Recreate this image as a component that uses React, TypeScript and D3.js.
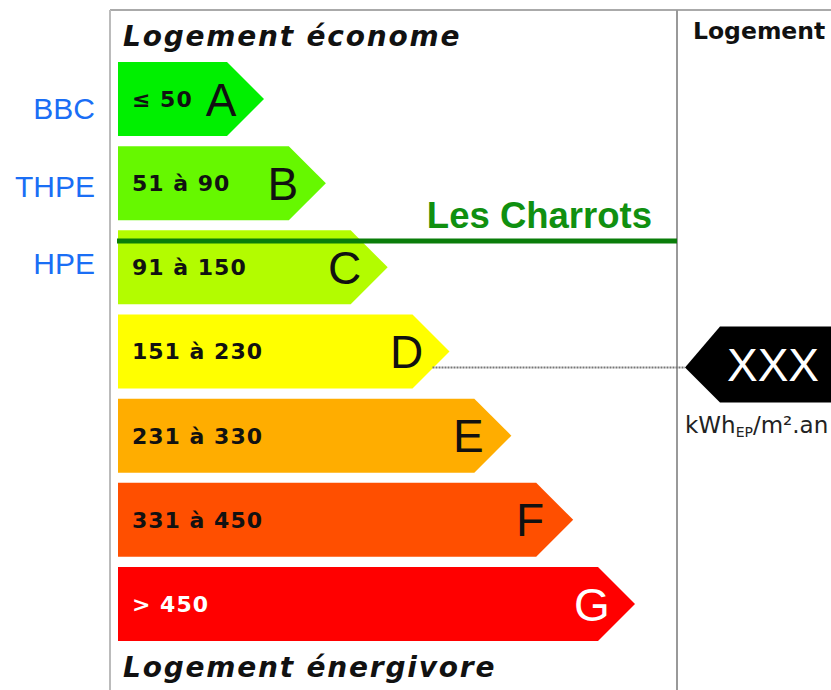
import { useEffect } from 'react'
import * as d3 from 'd3'

const classes = ['A', 'B', 'C', 'D', 'E', 'F', 'G']
const ranges = ['≤ 50', '51 à 90', '91 à 150', '151 à 230', '231 à 330', '331 à 450', '> 450']
const colors = ['#00f000', '#66f800', '#b3fc00', '#ffff00', '#ffad00', '#ff4f00', '#ff0000']
const textColors = ['#111', '#111', '#111', '#111', '#111', '#111', '#fff']
const levels = ['BBC', 'THPE', 'HPE']
const levelY = [108, 186, 263]
const project = 'Les Charrots'
const currentClass = 'D'
const currentValue = 'XXX'

export default function App() {
  useEffect(() => {
    document.body.style.margin = '0'
  }, [])

  const W = 831
  const H = 690
  const y = d3.scaleBand<string>().domain(classes).range([62, 641]).paddingInner(0.12)
  const xEnd = d3.scaleLinear().domain([0, classes.length - 1]).range([227, 598])
  const x0 = 118
  const bh = y.bandwidth()
  const tip = bh / 2

  const arrow = (c: string, i: number) => {
    const top = y(c) ?? 0
    const r = xEnd(i)
    const p = d3.path()
    p.moveTo(x0, top)
    p.lineTo(r, top)
    p.lineTo(r + tip, top + bh / 2)
    p.lineTo(r, top + bh)
    p.lineTo(x0, top + bh)
    p.closePath()
    return p.toString()
  }

  const ci = classes.indexOf(currentClass)
  const lineY = (y(currentClass) ?? 0) + bh / 2 + 16
  const cy = lineY - 3
  const sepX = 677
  const markTip = 685
  const markH = 76
  const marker = d3.path()
  marker.moveTo(markTip, lineY)
  marker.lineTo(markTip + 35, cy - markH / 2)
  marker.lineTo(W + 5, cy - markH / 2)
  marker.lineTo(W + 5, cy + markH / 2)
  marker.lineTo(markTip + 35, cy + markH / 2)
  marker.closePath()

  const labelFont = '"DejaVu Sans", Verdana, sans-serif'
  const arial = '"Liberation Sans", Arial, sans-serif'

  return (
    <svg width={W} height={H} style={{ display: 'block' }} fontFamily={arial}>
      <rect width={W} height={H} fill="#fff" />
      {/* frame */}
      <line x1={110} y1={10} x2={W} y2={10} stroke="#aaa" strokeWidth={2} />
      <line x1={110} y1={10} x2={110} y2={H} stroke="#bbb" strokeWidth={2} />
      <line x1={sepX} y1={10} x2={sepX} y2={H} stroke="#999" strokeWidth={2} />

      <text x={123} y={46} fontFamily={labelFont} fontWeight="bold" fontStyle="italic" fontSize={28} letterSpacing={1.8} fill="#111">
        Logement économe
      </text>
      <text x={123} y={677} fontFamily={labelFont} fontWeight="bold" fontStyle="italic" fontSize={28} letterSpacing={1.8} fill="#111">
        Logement énergivore
      </text>
      <text x={693} y={39} fontFamily={labelFont} fontWeight="bold" fontSize={23.5} fill="#111">
        Logement
      </text>

      {classes.map((c, i) => (
        <g key={c}>
          <path d={arrow(c, i)} fill={colors[i]} />
          <text x={x0 + 14} y={(y(c) ?? 0) + bh / 2} dy="0.36em" fontFamily={labelFont} fontWeight="bold" fontSize={22} letterSpacing={1} fill={textColors[i]}>
            {ranges[i]}
          </text>
          <text x={xEnd(i) - 6} y={(y(c) ?? 0) + bh / 2} dy="0.36em" textAnchor="middle" fontSize={46} fill={textColors[i]}>
            {c}
          </text>
        </g>
      ))}

      {levels.map((l, i) => (
        <text key={l} x={95} y={levelY[i]} dy="0.36em" textAnchor="end" fontSize={30} fill="#1a6ef5">
          {l}
        </text>
      ))}

      {/* project marker line */}
      <line x1={117} y1={241} x2={sepX} y2={241} stroke="#0a7d0a" strokeWidth={5} />
      <text x={652} y={228} textAnchor="end" fontWeight="bold" fontSize={36.5} fill="#109010">
        {project}
      </text>

      {/* current value */}
      <line x1={xEnd(ci) + 20} y1={lineY} x2={markTip} y2={lineY} stroke="#777" strokeWidth={2} strokeDasharray="2 1" />
      <path d={marker.toString()} fill="#000" />
      <text x={773} y={cy} dy="0.36em" textAnchor="middle" fontSize={46} fill="#fff">
        {currentValue}
      </text>
      <text x={685} y={433} fontFamily={labelFont} fontSize={23} fill="#222">
        kWh<tspan fontSize={14} dy={4}>EP</tspan>
        <tspan dy={-4}>/m².an</tspan>
      </text>
    </svg>
  )
}
